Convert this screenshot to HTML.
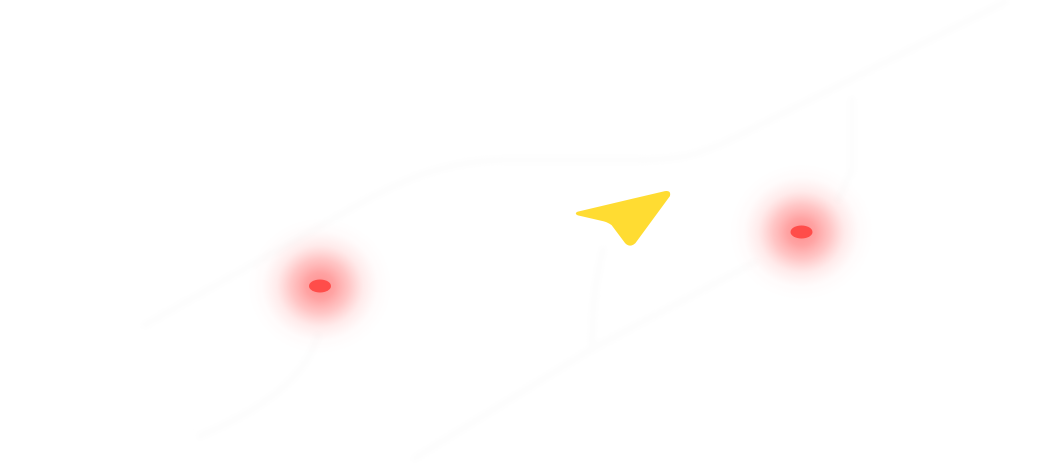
<!DOCTYPE html>
<html>
<head>
<meta charset="utf-8">
<style>
html,body{margin:0;padding:0;background:#fff;width:1042px;height:466px;overflow:hidden}
svg{display:block}
</style>
</head>
<body>
<svg width="1042" height="466" viewBox="0 0 1042 466" xmlns="http://www.w3.org/2000/svg">
<defs>
<radialGradient id="g">
<stop offset="0" stop-color="#ff4444" stop-opacity=".6"/>
<stop offset=".2" stop-color="#ff4848" stop-opacity=".5"/>
<stop offset=".4" stop-color="#ff5858" stop-opacity=".34"/>
<stop offset=".6" stop-color="#ff7070" stop-opacity=".14"/>
<stop offset=".8" stop-color="#ff8080" stop-opacity=".03"/>
<stop offset="1" stop-color="#ff8080" stop-opacity="0"/>
</radialGradient>
<filter id="b" x="-10%" y="-10%" width="120%" height="120%"><feGaussianBlur stdDeviation="2.5"/></filter>
</defs>
<rect width="1042" height="466" fill="#fff"/>
<g fill="none" stroke="#fdfdfd" stroke-width="8" stroke-linecap="round" filter="url(#b)">
<path d="M145 325 L340 215 C400 180 440 162 500 160 L640 160 C680 160 700 155 740 135 L1005 2"/>
<path d="M200 436 C260 410 305 380 318 335"/>
<path d="M415 458 L590 350 L755 262"/>
<path d="M592 350 C592 310 595 280 603 250"/>
<path d="M852 100 L852 170 L838 200"/>
</g>
<ellipse cx="320" cy="286" rx="72" ry="68" fill="url(#g)"/>
<ellipse cx="801.5" cy="232" rx="72" ry="68" fill="url(#g)"/>
<ellipse cx="320" cy="286" rx="11" ry="6.500" fill="#ff4d4a"/>
<ellipse cx="801.5" cy="232" rx="11" ry="6.500" fill="#ff4d4a"/>
<path d="M578 212 L665 191.500 Q671 190.500 669.500 196 L635 243 Q630 247.500 625.500 243 L612 225 Q609 222.500 604 221 L578 215 Q574.500 213.500 578 212 Z" fill="#ffdc32" stroke="#ffdc32" stroke-width=".8" stroke-linejoin="round"/>
</svg>
</body>
</html>
